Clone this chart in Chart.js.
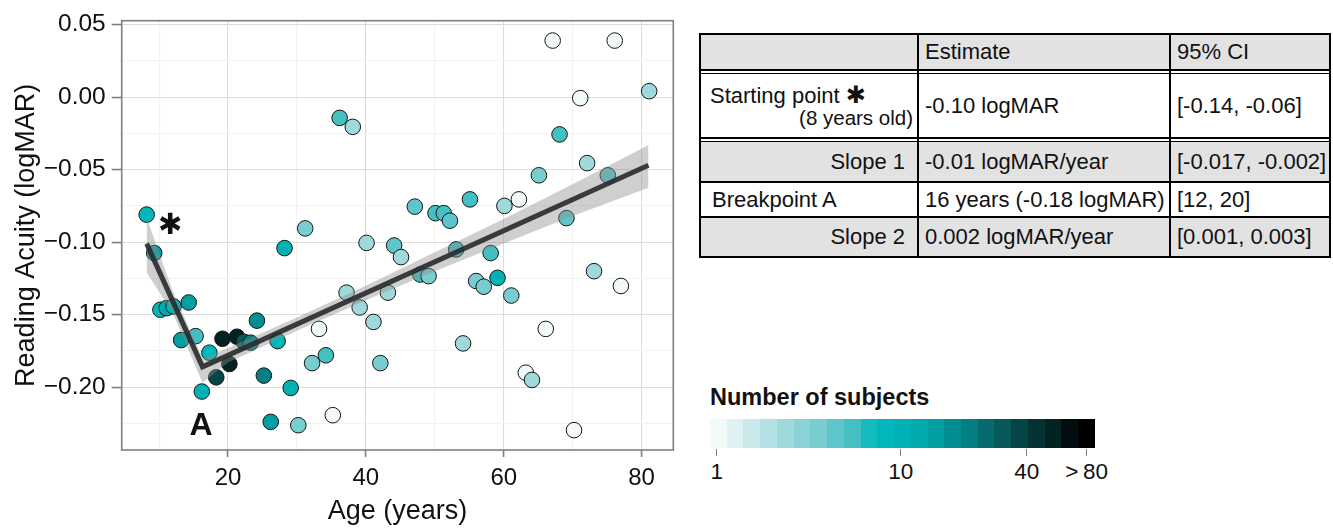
<!DOCTYPE html>
<html>
<head>
<meta charset="utf-8">
<script src="https://cdn.jsdelivr.net/npm/chart.js@4.4.1/dist/chart.umd.min.js"></script>
<style>
  body { margin: 0; background: #fff; width: 1333px; height: 529px; overflow: hidden; position: relative;
         font-family: 'Liberation Sans', Arial, sans-serif; color: #111; }
  #plotBox { position: absolute; left: 0; top: 0; width: 690px; height: 529px; }

  /* stats table */
  #stats { position: absolute; left: 699px; top: 33px; width: 632px; height: 225px; box-sizing: border-box;
           border: 2px solid #000; font-size: 22px; }
  #stats .band { position: absolute; left: 0; width: 100%; }
  #stats .g { background: #e2e2e2; }
  #stats .hl { position: absolute; left: 0; width: 100%; height: 1.6px; background: #000; }
  #stats .vl { position: absolute; top: 0; height: 100%; width: 1.5px; background: #000; }
  #stats .cell { position: absolute; white-space: nowrap; }
  .star { font-family: 'DejaVu Sans', sans-serif; font-size: 24px; }

  /* colour legend */
  #legendTitle { position: absolute; left: 710px; top: 384px; font-size: 23.5px; font-weight: bold; line-height: 26px; }
  #bar { position: absolute; left: 710px; top: 419px; width: 385px; height: 29px; display: flex; }
  #bar div { flex: 1; }
  .ltick { position: absolute; top: 449px; width: 1.6px; height: 7px; background: #7f7f7f; }
  .llab { position: absolute; top: 459px; font-size: 22.5px; line-height: 26px; transform: translateX(-50%); white-space: nowrap; }
</style>
</head>
<body>
<div id="plotBox"><canvas id="chart"></canvas></div>

<div id="stats">
  <div class="band g" style="top:0;height:34px"></div>
  <div class="hl" style="top:34px"></div>
  <div class="hl" style="top:37.5px"></div>
  <div class="hl" style="top:102px"></div>
  <div class="hl" style="top:105.5px"></div>
  <div class="band g" style="top:107px;height:39px"></div>
  <div class="hl" style="top:146px"></div>
  <div class="hl" style="top:181px"></div>
  <div class="band g" style="top:182.5px;height:38.5px"></div>
  <div class="vl" style="left:216px"></div>
  <div class="vl" style="left:468px"></div>

  <div class="cell" style="left:224px;top:0;line-height:34px">Estimate</div>
  <div class="cell" style="left:476px;top:0;line-height:34px">95% CI</div>

  <div class="cell" style="left:9px;top:47px;line-height:26px">Starting point <span class="star">✱</span></div>
  <div class="cell" style="right:416px;top:72px;line-height:22px;font-size:20.5px">(8 years old)</div>
  <div class="cell" style="left:224px;top:39px;line-height:63px">-0.10 logMAR</div>
  <div class="cell" style="left:476px;top:39px;line-height:63px">[-0.14, -0.06]</div>

  <div class="cell" style="right:424px;top:107px;line-height:39px">Slope 1</div>
  <div class="cell" style="left:224px;top:107px;line-height:39px">-0.01 logMAR/year</div>
  <div class="cell" style="left:476px;top:107px;line-height:39px">[-0.017, -0.002]</div>

  <div class="cell" style="left:11px;top:147.5px;line-height:33.5px">Breakpoint A</div>
  <div class="cell" style="left:224px;top:147.5px;line-height:33.5px">16 years (-0.18 logMAR)</div>
  <div class="cell" style="left:476px;top:147.5px;line-height:33.5px">[12, 20]</div>

  <div class="cell" style="right:424px;top:182.5px;line-height:38.5px">Slope 2</div>
  <div class="cell" style="left:224px;top:182.5px;line-height:38.5px">0.002 logMAR/year</div>
  <div class="cell" style="left:476px;top:182.5px;line-height:38.5px">[0.001, 0.003]</div>
</div>

<div id="legendTitle">Number of subjects</div>
<div id="bar"></div>

<script>
// Werte
const ages = [8.2, 9.3, 10.2, 11.1, 12.1, 14.3, 13.2, 15.3, 17.3, 16.2, 18.3, 19.2, 20.2, 21.3, 22.3,
              23.3, 24.2, 27.2, 25.2, 29.1, 26.2, 30.2, 28.2, 31.2, 36.2, 38.1, 40.1, 47.1, 50.1, 51.3,
              52.2, 55.1, 44.1, 45.1, 53.1, 47.9, 49.1, 56.0, 57.1, 37.2, 39.1, 43.2, 41.1, 33.2, 32.2,
              34.2, 42.1, 54.1, 35.2, 67.1, 76.1, 81.1, 71.1, 68.1, 72.1, 75.1, 65.1, 62.2, 60.1,
              69.1, 58.1, 73.1, 77.0, 59.1, 61.1, 66.1, 63.2, 64.1, 70.2];
const acuity = [-0.081, -0.1075, -0.1466, -0.1455, -0.1443, -0.1416, -0.1675, -0.1648, -0.1762, -0.203,
                -0.1932, -0.1666, -0.184, -0.1652, -0.1687, -0.1693, -0.1541, -0.1682, -0.192, -0.2005,
                -0.2239, -0.2262, -0.1041, -0.0905, -0.0143, -0.0205, -0.1005, -0.0755, -0.08, -0.08,
                -0.0852, -0.0705, -0.1023, -0.1103, -0.105, -0.1223, -0.1234, -0.1268, -0.1307, -0.1348,
                -0.145, -0.1348, -0.155, -0.1598, -0.1834, -0.178, -0.1834, -0.1698, -0.2193, 0.039,
                0.039, 0.0041, -0.0007, -0.0257, -0.0455, -0.0539, -0.0539, -0.0705, -0.075, -0.0834,
                -0.1075, -0.12, -0.1302, -0.1246, -0.1368, -0.1598, -0.19, -0.195, -0.2296];
// number of subjects -> step of the colour scale
const shade = [10, 13, 10, 12, 11, 13, 13, 8, 10, 11, 18, 20, 20, 20, 17, 15, 14, 10, 15, 11, 13, 6, 11, 6, 8,
               4, 4, 7, 8, 8, 7, 8, 7, 4, 8, 8, 6, 6, 6, 4, 4, 4, 4, 0, 6, 8, 6, 4, 0, 0,
               0, 4, 0, 8, 4, 7, 6, 0, 4, 7, 8, 4, 0, 11, 6, 0, 0, 4, 0];
const shadeColors = ['#f2f9f9', '#dff1f2', '#cbe9eb', '#b5e1e4', '#a0d9dc', '#8ad2d5', '#78cdd1', '#5ec6ca',
                     '#44c0c3', '#16bbbf', '#00b8bc', '#00b2b5', '#00aaad', '#00a0a2', '#028f91', '#047f81',
                     '#066b6c', '#075859', '#064545', '#053333', '#032222', '#020d0f', '#000000'];

// segmentierte Regression + Konfidenzband
const fitAges = [8.2, 16.3, 81];
const fitAcuity = [-0.101, -0.186, -0.047];
const bandAges = [8.2, 12, 16.3, 20, 30, 40, 50, 60, 70, 81];
const bandLow = [-0.121, -0.149, -0.197, -0.183, -0.161, -0.140, -0.120, -0.101, -0.082, -0.0625];
const bandHigh = [-0.083, -0.134, -0.180, -0.173, -0.152, -0.130, -0.107, -0.084, -0.060, -0.033];

const xTicks = [20, 40, 60, 80];
const yTicks = [-0.20, -0.15, -0.10, -0.05, 0.00, 0.05];
const yTickLabels = ['\u22120.20', '\u22120.15', '\u22120.10', '\u22120.05', '0.00', '0.05'];
const legendLabels = ['1', '10', '40', '>\u200980'];

// Legende bauen
const bar = document.getElementById('bar');
shadeColors.forEach(c => {
    const d = document.createElement('div');
    d.style.background = c;
    bar.appendChild(d);
});
const legendTickX = [716.7, 900.7, 1026.7, 1086.7];
legendLabels.forEach((lab, i) => {
    const t = document.createElement('div');
    t.className = 'ltick';
    t.style.left = (legendTickX[i] - 0.8) + 'px';
    document.body.appendChild(t);
    const l = document.createElement('div');
    l.className = 'llab';
    l.style.left = legendTickX[i] + 'px';
    l.textContent = lab;
    document.body.appendChild(l);
});

// major + minor grid positions
function withMinor(majors, lo, hi) {
    const step = majors[1] - majors[0];
    const out = [];
    for (let v = majors[0] - step / 2; v <= majors[majors.length - 1] + step / 2 + 1e-9; v += step / 2) {
        if (v >= lo && v <= hi) out.push(+v.toFixed(4));
    }
    return out;
}
const isMajor = (v, majors) => majors.some(m => Math.abs(m - v) < 1e-6);

const xMin = 4.58, xMax = 84.6, yMin = -0.2433, yMax = 0.0527;

const extras = {
    id: 'extras',
    afterDatasetsDraw(chart) {
        const { ctx, chartArea: a, scales: { x, y } } = chart;
        ctx.save();
        ctx.fillStyle = '#111';
        ctx.textAlign = 'center';
        ctx.textBaseline = 'middle';
        ctx.font = 'bold 32px "Liberation Sans", Arial, sans-serif';
        ctx.fillText('A', x.getPixelForValue(16.1), y.getPixelForValue(-0.226) + 1);
        ctx.font = '29px "DejaVu Sans", sans-serif';
        ctx.fillText('\u2731', x.getPixelForValue(11.6), y.getPixelForValue(-0.089));
        ctx.strokeStyle = '#7f7f7f';
        ctx.lineWidth = 1.6;
        ctx.strokeRect(a.left, a.top, a.right - a.left, a.bottom - a.top);
        ctx.restore();
    }
};

Chart.defaults.font.family = "'Liberation Sans', Arial, sans-serif";
Chart.defaults.color = '#111';

new Chart(document.getElementById('chart'), {
    type: 'scatter',
    data: {
        datasets: [
            {
                label: 'subjects',
                data: ages.map((a, i) => ({ x: a, y: acuity[i] })),
                backgroundColor: shade.map(s => shadeColors[s]),
                borderColor: '#151515',
                borderWidth: 1,
                pointRadius: 7.8,
                order: 3
            },
            {
                label: 'ci high',
                data: bandAges.map((a, i) => ({ x: a, y: bandHigh[i] })),
                showLine: true,
                pointRadius: 0,
                borderColor: 'rgba(0,0,0,0)',
                backgroundColor: 'rgba(140,140,140,0.42)',
                fill: '+1',
                order: 2
            },
            {
                label: 'ci low',
                data: bandAges.map((a, i) => ({ x: a, y: bandLow[i] })),
                showLine: true,
                pointRadius: 0,
                borderColor: 'rgba(0,0,0,0)',
                fill: false,
                order: 2
            },
            {
                label: 'fit',
                data: fitAges.map((a, i) => ({ x: a, y: fitAcuity[i] })),
                showLine: true,
                pointRadius: 0,
                borderColor: 'rgba(40,42,44,0.9)',
                borderWidth: 5,
                fill: false,
                order: 1
            }
        ]
    },
    options: {
        responsive: true,
        maintainAspectRatio: false,
        animation: false,
        layout: { padding: { left: 0, top: 17, right: 16.7, bottom: 0 } },
        plugins: { legend: { display: false }, tooltip: { enabled: false } },
        scales: {
            x: {
                type: 'linear',
                min: xMin,
                max: xMax,
                afterBuildTicks: s => { s.ticks = withMinor(xTicks, xMin, xMax).map(v => ({ value: v })); },
                afterFit: s => { s.height = 79; },
                border: { display: false },
                grid: {
                    color: c => (c.tick && isMajor(c.tick.value, xTicks)) ? '#dcdcdc' : '#f2f2f2',
                    lineWidth: 1.1,
                    tickLength: 7,
                    tickWidth: 1.6,
                    tickColor: c => (c.tick && isMajor(c.tick.value, xTicks)) ? '#7f7f7f' : 'rgba(0,0,0,0)'
                },
                ticks: {
                    autoSkip: false,
                    maxRotation: 0,
                    padding: 7,
                    color: '#111',
                    font: { size: 24 },
                    callback: v => isMajor(v, xTicks) ? String(Math.round(v)) : ''
                },
                title: { display: true, text: 'Age (years)', color: '#111', font: { size: 27 }, padding: { top: 0, bottom: 1 } }
            },
            y: {
                type: 'linear',
                min: yMin,
                max: yMax,
                afterBuildTicks: s => { s.ticks = withMinor(yTicks, yMin, yMax).map(v => ({ value: v })); },
                afterFit: s => { s.width = 121.7; },
                border: { display: false },
                grid: {
                    color: c => (c.tick && isMajor(c.tick.value, yTicks)) ? '#dcdcdc' : '#f2f2f2',
                    lineWidth: 1.1,
                    tickLength: 10,
                    tickWidth: 1.6,
                    tickColor: c => (c.tick && isMajor(c.tick.value, yTicks)) ? '#7f7f7f' : 'rgba(0,0,0,0)'
                },
                ticks: {
                    autoSkip: false,
                    padding: 6,
                    color: '#111',
                    font: { size: 24.5 },
                    callback: v => {
                        const i = yTicks.findIndex(m => Math.abs(m - v) < 1e-6);
                        return i >= 0 ? yTickLabels[i] : '';
                    }
                },
                title: { display: true, text: 'Reading Acuity (logMAR)', color: '#111', font: { size: 27 }, padding: { top: 10, bottom: 0 } }
            }
        }
    },
    plugins: [extras]
});
</script>
</body>
</html>
